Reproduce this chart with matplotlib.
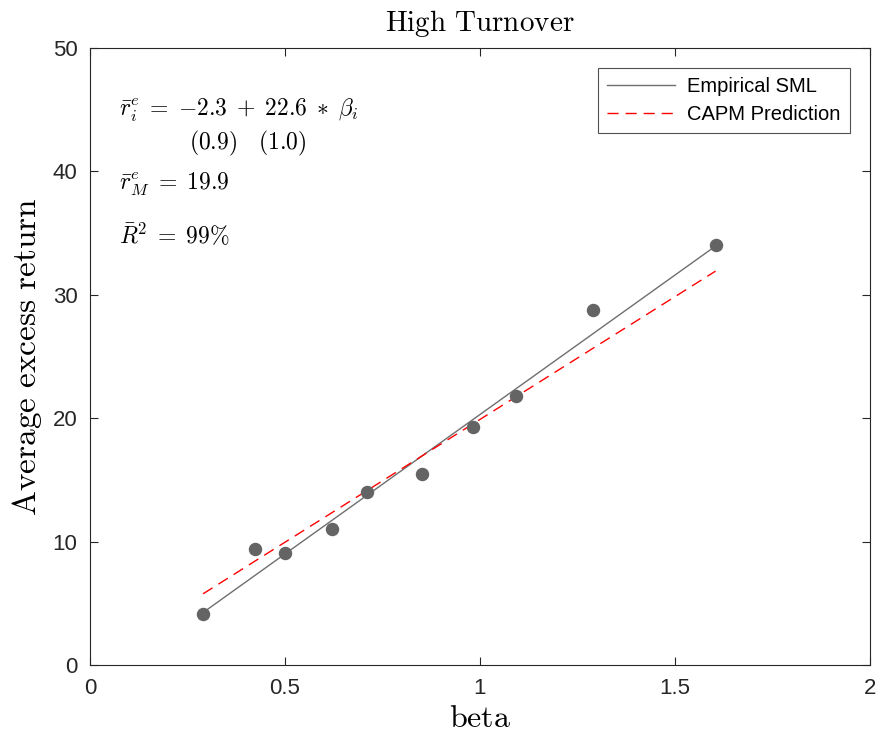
import numpy as np
import matplotlib.pyplot as plt

# Portfolio betas and average excess returns
betas = [0.290, 0.423, 0.500, 0.621, 0.710, 0.851, 0.982, 1.093, 1.291, 1.604]
avg_returns = [4.11, 9.40, 9.10, 11.0, 14.02, 15.48, 19.29, 21.80, 28.74, 34.04]

# Regression / CAPM numbers shown on the chart
sml_intercept = -2.3
sml_slope = 22.6
market_premium = 19.9

plt.rcParams['mathtext.fontset'] = 'cm'
plt.rcParams['font.family'] = ['Liberation Sans', 'DejaVu Sans']

fig = plt.figure(figsize=(8.81, 7.38), dpi=100)
ax = fig.add_axes([90 / 881, 1 - 665 / 738, 780 / 881, 617 / 738])

b = np.array(betas)
bx = np.array([b.min(), b.max()])

ax.plot(bx, sml_intercept + sml_slope * bx, color='#6e6e6e', lw=1.0,
        label='Empirical SML')
ax.plot(bx, market_premium * bx, color='red', lw=1.0, dashes=(8, 5),
        label='CAPM Prediction')
ax.scatter(betas, avg_returns, s=75, color='#646464', zorder=3)

ax.set_xlim(0, 2)
ax.set_ylim(0, 50)
ax.set_xticks([0, 0.5, 1, 1.5, 2])
ax.set_xticklabels(['0', '0.5', '1', '1.5', '2'])
ax.set_yticks(range(0, 51, 10))
ax.tick_params(direction='in', labelsize=16, top=True, right=True,
               length=6, width=0.8, colors='#262626', pad=9)
for s in ax.spines.values():
    s.set_linewidth(0.8)
    s.set_color('#262626')

ax.set_title(r'$\mathrm{High\ Turnover}$', fontsize=21, pad=12)
ax.set_xlabel(r'$\mathrm{beta}$', fontsize=23, labelpad=4)
ax.set_ylabel(r'$\mathrm{Average\ excess\ return}$', fontsize=24,
              labelpad=6)

ax.text(0.075, 44.9,
        r'$\bar{r}^e_i\;=\;{%.1f}\;+\;%.1f\;*\;\beta_i$' % (sml_intercept, sml_slope),
        fontsize=17, va='center')
ax.text(0.253, 42.3, r'$(0.9)\ \ \ (1.0)$', fontsize=17, va='center')
ax.text(0.075, 38.9, r'$\bar{r}^e_M\;=\;%.1f$' % market_premium,
        fontsize=17, va='center')
ax.text(0.075, 34.9, r'$\bar{R}^2\;=\;99\%$', fontsize=17, va='center')

leg = ax.legend(loc='upper right', fontsize=14.5, frameon=True, fancybox=False,
                edgecolor='#262626', handlelength=3.4, handletextpad=0.6,
                borderaxespad=1.0, labelspacing=0.45, borderpad=0.45)
leg.get_frame().set_linewidth(0.8)

fig.savefig('out.png', dpi=100)
